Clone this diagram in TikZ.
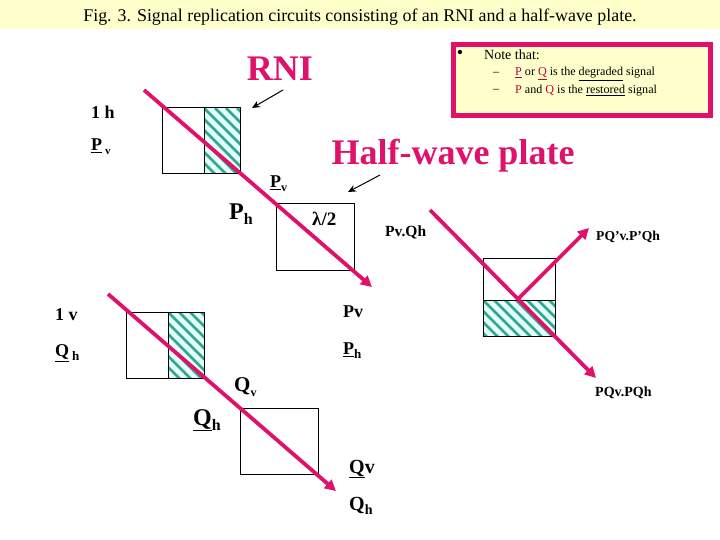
\documentclass[tikz,border=0pt]{standalone}
\usepackage{fontspec}
\setmainfont{Liberation Serif}
\usetikzlibrary{arrows.meta}
\definecolor{band}{HTML}{FFFFCC}
\definecolor{beam}{HTML}{E0116B}
\definecolor{tealx}{HTML}{33A68C}
\definecolor{cyanx}{HTML}{E4FFFB}
\definecolor{pinkt}{HTML}{C00040}
\newcommand{\ulx}[1]{\underline{#1}}
\newcommand{\subx}[2]{\raisebox{-0.22em}{\fontsize{#1}{#1}\selectfont #2}}
\tikzset{
 x=1pt,y=-1pt,
 plate/.style={draw=black,line width=1pt,inner sep=0pt,outer sep=0pt,rectangle},
 beamline/.style={draw=beam,line width=3.8pt,-{Triangle[length=11pt,width=11pt]}},
 pointer/.style={draw=black,line width=1pt,-{Stealth[length=8pt,width=7pt]}},
 lab/.style={inner sep=0pt,anchor=west,font=\bfseries\fontsize{18}{18}\selectfont},
 notet/.style={inner sep=0pt,anchor=west,font=\fontsize{12.1}{12.1}\selectfont},
}
\newcommand{\hatchbox}[4]{%
 \begin{scope}
 \clip (#1,#2) rectangle (#3,#4);
 \fill[cyanx] (#1,#2) rectangle (#3,#4);
 \foreach \k in {-121,-110,...,120} {
  \draw[tealx,line width=2.8pt] ({#1+\k},#2) -- ({#1+\k+100},{#2+100});
 }
 \end{scope}
 \draw[black,line width=1pt] (#1,#2) rectangle (#3,#4);
}
\begin{document}
\begin{tikzpicture}
\useasboundingbox (0,0) rectangle (720,540);
\fill[white] (0,0) rectangle (720,540);
\fill[band] (0,0) rectangle (720,29);
\node[inner sep=0pt,font=\fontsize{17.9}{17.9}\selectfont] (title) at (360,17) {Fig. 3. Signal replication circuits consisting of an RNI and a half-wave plate.};
% note box
\node[draw=beam,fill=band,line width=5pt,minimum width=257pt,minimum height=71pt,inner sep=0pt,anchor=north west] (notebox) at (450.5,42.5) {};
\node[inner sep=0pt,font=\fontsize{18}{18}\selectfont] (b1) at (460,54) {•};
\node[notet,font=\fontsize{14}{14}\selectfont] (n1) at (484,55) {Note that:};
\node[notet] (d1) at (493,74) {–};
\node[notet] (d2) at (493,91) {–};
\node[notet] (n2) at (515,74) {\textcolor{pinkt}{\ulx{P}} or \textcolor{pinkt}{\ulx{Q}} is the \ulx{degraded} signal};
\node[notet] (n3) at (515,91) {\textcolor{pinkt}{P} and \textcolor{pinkt}{Q} is the \ulx{restored} signal};
% big labels
\node[inner sep=0pt,text=beam,font=\bfseries\fontsize{36}{36}\selectfont] (rni) at (280,69) {RNI};
\node[inner sep=0pt,text=beam,font=\bfseries\fontsize{36}{36}\selectfont] (hwp) at (453,156) {Half-wave plate};
% plates
\hatchbox{204}{108}{240}{174}
\node[plate,minimum width=78pt,minimum height=66pt,anchor=north west] (r1) at (162,108) {};
\draw[black,line width=1pt] (204,108) -- (204,174);
\node[plate,minimum width=78pt,minimum height=66pt,anchor=north west] (h1) at (276,204) {};
\hatchbox{168}{312}{204}{378}
\node[plate,minimum width=78pt,minimum height=66pt,anchor=north west] (r2) at (126,312) {};
\draw[black,line width=1pt] (168,312) -- (168,378);
\node[plate,minimum width=78pt,minimum height=66pt,anchor=north west] (h2) at (240,408) {};
\hatchbox{483}{300}{555}{336}
\node[plate,minimum width=72pt,minimum height=78pt,anchor=north west] (r3) at (483,258) {};
\draw[black,line width=1pt] (483,300) -- (555,300);
% beams
\coordinate (a1) at (144,90); \coordinate (a2) at (372,287);
\coordinate (b1s) at (108,294); \coordinate (b2) at (336,491);
\coordinate (c1) at (430,210); \coordinate (c2) at (596,378);
\coordinate (c3) at (517,300); \coordinate (c4) at (589,228);
\draw[beamline] (a1) -- (a2);
\draw[beamline] (b1s) -- (b2);
\draw[beamline] (c1) -- (c2);
\draw[beamline] (c3) -- (c4);
% pointers
\coordinate (p1) at (283,90); \coordinate (p2) at (252,108);
\coordinate (p3) at (380,175); \coordinate (p4) at (348,192);
\draw[pointer] (p1) -- (p2);
\draw[pointer] (p3) -- (p4);
% labels
\node[lab] (l1) at (91,112) {1 h};
\node[lab] (l2) at (91,147) {\ulx{P}\,\subx{11}{v}};
\node[lab] (l3) at (270,184) {\ulx{P}\subx{12}{v}};
\node[lab,font=\bfseries\fontsize{24}{24}\selectfont] (l4) at (229,214) {P\subx{16}{h}};
\node[lab,font=\bfseries\fontsize{19}{19}\selectfont] (l5) at (312,219) {λ/2};
\node[lab,font=\bfseries\fontsize{15.5}{15.5}\selectfont] (l6) at (385,232) {Pv.Qh};
\node[lab,font=\bfseries\fontsize{13.6}{13.6}\selectfont] (l7) at (596,237) {PQ’v.P’Qh};
\node[lab,font=\bfseries\fontsize{14}{14}\selectfont] (l8) at (595,393) {PQv.PQh};
\node[lab] (l9) at (55,315) {1 v};
\node[lab] (l10) at (55,353) {\ulx{Q}\,\subx{13}{h}};
\node[lab] (l11) at (343,312) {Pv};
\node[lab] (l12) at (343,351) {\ulx{P}\subx{13}{h}};
\node[lab,font=\bfseries\fontsize{21}{21}\selectfont] (l13) at (234,387) {Q\subx{12}{v}};
\node[lab,font=\bfseries\fontsize{24}{24}\selectfont] (l14) at (193,420) {\ulx{Q}\subx{16}{h}};
\node[lab,font=\bfseries\fontsize{20}{20}\selectfont] (l15) at (349,469) {\ulx{Q}v};
\node[lab,font=\bfseries\fontsize{20}{20}\selectfont] (l16) at (349,506) {Q\subx{14}{h}};
\end{tikzpicture}
\end{document}
